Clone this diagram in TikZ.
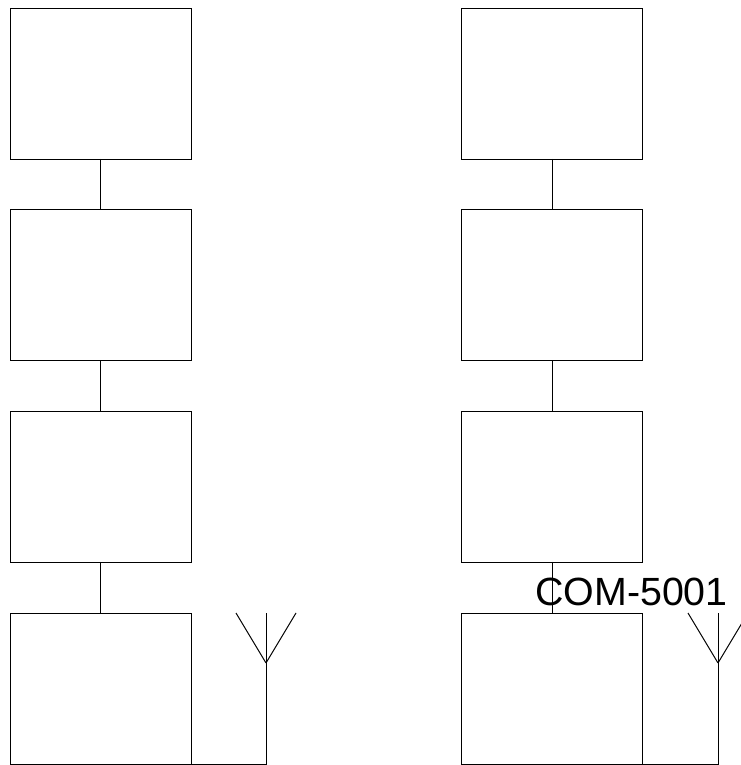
\documentclass[tikz,border=0pt]{standalone}
\usepackage{fontspec}
\setmainfont{Liberation Sans}
\usetikzlibrary{positioning}
\begin{document}
\begin{tikzpicture}[
  blockbox/.style={draw,line width=0.55pt,minimum width=3.62cm,minimum height=3.02cm,inner sep=0pt,outer sep=0pt},
  wire/.style={line width=0.55pt,black},
  partlabel/.style={font=\fontsize{22.4}{24}\selectfont,inner sep=0pt},
]
  \useasboundingbox (0,0) rectangle (14.8,15.3);

  % Left chain
  \node[blockbox] (la) at (2.01, 13.63) {};
  \node[blockbox] (lb) at (2.01, 9.60)  {};
  \node[blockbox] (lc) at (2.01, 5.57)  {};
  \node[blockbox] (ld) at (2.01, 1.53)  {};
  \draw[wire] (la) -- (lb);
  \draw[wire] (lb) -- (lc);
  \draw[wire] (lc) -- (ld);

  % Right chain
  \node[blockbox] (ra) at (11.04, 13.63) {};
  \node[blockbox] (rb) at (11.04, 9.60)  {};
  \node[blockbox] (rc) at (11.04, 5.57)  {};
  \node[blockbox] (rd) at (11.04, 1.53)  {};
  \draw[wire] (ra) -- (rb);
  \draw[wire] (rb) -- (rc);
  \draw[wire] (rc) -- (rd);

  % Left antenna
  \coordinate (ltip)  at (5.32, 2.04);
  \coordinate (ltop)  at (5.32, 3.04);
  \coordinate (lleft) at (4.72, 3.04);
  \coordinate (lright) at (5.92, 3.04);
  \draw[wire] (ld.south) -| (ltip);
  \draw[wire] (ltip) -- (ltop);
  \draw[wire] (ltip) -- (lleft);
  \draw[wire] (ltip) -- (lright);

  % Right antenna
  \coordinate (rtip)  at (14.36, 2.04);
  \coordinate (rtop)  at (14.36, 3.04);
  \coordinate (rleft) at (13.76, 3.04);
  \coordinate (rright) at (14.96, 3.04);
  \draw[wire] (rd.south) -| (rtip);
  \draw[wire] (rtip) -- (rtop);
  \draw[wire] (rtip) -- (rleft);
  \draw[wire] (rtip) -- (rright);

  % Part number
  \node[partlabel] (partno) at (12.63, 3.47) {COM-5001};
\end{tikzpicture}
\end{document}
